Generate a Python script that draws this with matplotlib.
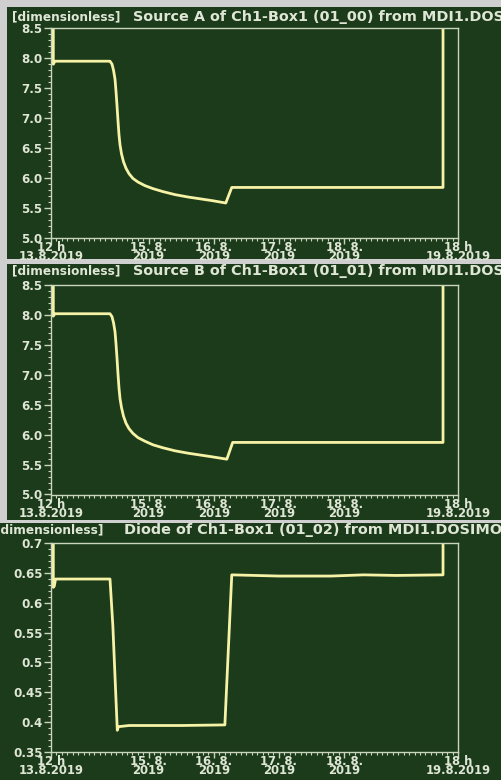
import matplotlib
matplotlib.use("Agg")
import matplotlib.pyplot as plt
from matplotlib.patches import Rectangle
from matplotlib.ticker import FixedLocator, MultipleLocator

# time in days since 13.8.2019 12:00
t_a = [0.035, 0.035, 0.06, 0.906, 0.937, 0.960, 0.983, 0.998, 1.014, 1.029, 1.044, 1.060, 1.083,
       1.113, 1.152, 1.198, 1.259, 1.336, 1.443, 1.566, 1.720, 1.904, 2.104, 2.288, 2.472, 2.684,
       2.776, 6.02, 6.02]
v_a = [9.0, 7.90, 7.95, 7.95, 7.90, 7.80, 7.65, 7.45, 7.20, 6.95, 6.72, 6.55, 6.40,
       6.27, 6.16, 6.07, 5.99, 5.93, 5.87, 5.82, 5.77, 5.72, 5.68, 5.65, 5.62, 5.58,
       5.84, 5.84, 9.0]

t_b = [0.035, 0.035, 0.06, 0.906, 0.937, 0.960, 0.983, 0.998, 1.014, 1.029, 1.044, 1.060, 1.083,
       1.113, 1.152, 1.198, 1.259, 1.336, 1.443, 1.566, 1.720, 1.904, 2.104, 2.288, 2.472, 2.70,
       2.79, 6.02, 6.02]
v_b = [9.0, 7.98, 8.02, 8.02, 7.97, 7.87, 7.72, 7.52, 7.27, 7.01, 6.78, 6.60, 6.45,
       6.31, 6.19, 6.10, 6.02, 5.95, 5.89, 5.83, 5.78, 5.73, 5.69, 5.66, 5.63, 5.59,
       5.87, 5.87, 9.0]

t_d = [0.035, 0.035, 0.05, 0.07, 0.906, 0.95, 1.018, 1.035, 1.2, 2.0, 2.67, 2.776, 3.5, 4.3,
       4.8, 5.3, 6.02, 6.02]
v_d = [0.72, 0.626, 0.628, 0.640, 0.640, 0.561, 0.386, 0.392, 0.394, 0.394, 0.395, 0.647, 0.645,
       0.645, 0.647, 0.646, 0.647, 0.72]

titles = ["Source A of Ch1-Box1 (01_00) from MDI1.DOSIMON",
          "Source B of Ch1-Box1 (01_01) from MDI1.DOSIMON",
          "Diode of Ch1-Box1 (01_02) from MDI1.DOSIMON"]
unit = "[dimensionless]"
x_ticks = [0.0, 1.5, 2.5, 3.5, 4.5, 6.25]
x_labels = ["12 h\n13.8.2019", "15. 8.\n2019", "16. 8.\n2019", "17. 8.\n2019", "18. 8.\n2019", "18 h\n19.8.2019"]

W, H = 502, 780
BG = "#1b3b1a"
LINE = "#f6f2a6"
AXC = "#c9d6bd"
TXT = "#dfe6d6"
FONT = "DejaVu Sans"

fig = plt.figure(figsize=(W / 100, H / 100), dpi=100, facecolor="#cfcfcf")


def rect(x0, y0, x1, y1):
    # pixel box (top-left origin) -> figure fraction
    return [x0 / W, 1 - y1 / H, (x1 - x0) / W, (y1 - y0) / H]


def panel(bg_box, plot_box, title_y, unit_x, title_x, t, v, ylim, ystep, yminor, yfmt, title):
    b = rect(*bg_box)
    fig.patches.append(Rectangle((b[0], b[1]), b[2], b[3], transform=fig.transFigure,
                                 facecolor=BG, edgecolor="none", zorder=-10))
    fig.text(unit_x / W, 1 - title_y / H, unit, color=TXT, fontsize=8.7, fontweight="bold",
             family=FONT, va="center", ha="left")
    fig.text(title_x / W, 1 - title_y / H, title, color=TXT, fontsize=10.4, fontweight="bold",
             family=FONT, va="center", ha="left")
    ax = fig.add_axes(rect(*plot_box))
    ax.set_facecolor(BG)
    ax.plot(t, v, color=LINE, lw=2.0)
    ax.set_xlim(0, 6.25)
    for s in ax.spines.values():
        s.set_color(AXC)
        s.set_linewidth(1.0)
    ax.xaxis.set_major_locator(FixedLocator(x_ticks))
    ax.set_xticklabels(x_labels)
    ax.xaxis.set_minor_locator(MultipleLocator(1 / 12))
    ax.yaxis.set_major_locator(MultipleLocator(ystep))
    ax.yaxis.set_minor_locator(MultipleLocator(yminor))
    ax.set_ylim(*ylim)
    ax.set_yticks(ax.get_yticks())
    ax.set_yticklabels([yfmt(y) for y in ax.get_yticks()])
    ax.set_ylim(*ylim)
    ax.tick_params(axis="y", which="major", colors=AXC, length=5, width=1,
                   labelcolor=TXT, labelsize=8.6, pad=1)
    ax.tick_params(axis="x", which="major", colors=AXC, length=4, width=1,
                   labelcolor=TXT, labelsize=8.4, pad=-1.5)
    ax.tick_params(axis="both", which="minor", colors=AXC, length=2.5, width=0.8)
    for lab in ax.get_xticklabels() + ax.get_yticklabels():
        lab.set_fontweight("bold")
        lab.set_family(FONT)
    for lab in ax.get_xticklabels():
        lab.set_linespacing(0.6)
    return ax


fmt1 = lambda y: f"{y:.1f}"
fmt3 = lambda y: f"{y:.2f}" if abs(y * 10 - round(y * 10)) > 1e-6 else f"{y:.1f}"

panel((7, 7, 502, 259), (51, 28.3, 458, 237.7), 17, 12, 133, t_a, v_a,
      (5.0, 8.5), 0.5, 0.1, fmt1, titles[0])
panel((7, 264, 502, 520), (51, 285, 458, 494.5), 271, 12, 133, t_b, v_b,
      (5.0, 8.5), 0.5, 0.1, fmt1, titles[1])
panel((0, 523, 502, 780), (51, 543.3, 458, 751.7), 530, -5, 124, t_d, v_d,
      (0.35, 0.7), 0.05, 0.01, fmt3, titles[2])

fig.savefig("out.png", dpi=100, facecolor=fig.get_facecolor())
